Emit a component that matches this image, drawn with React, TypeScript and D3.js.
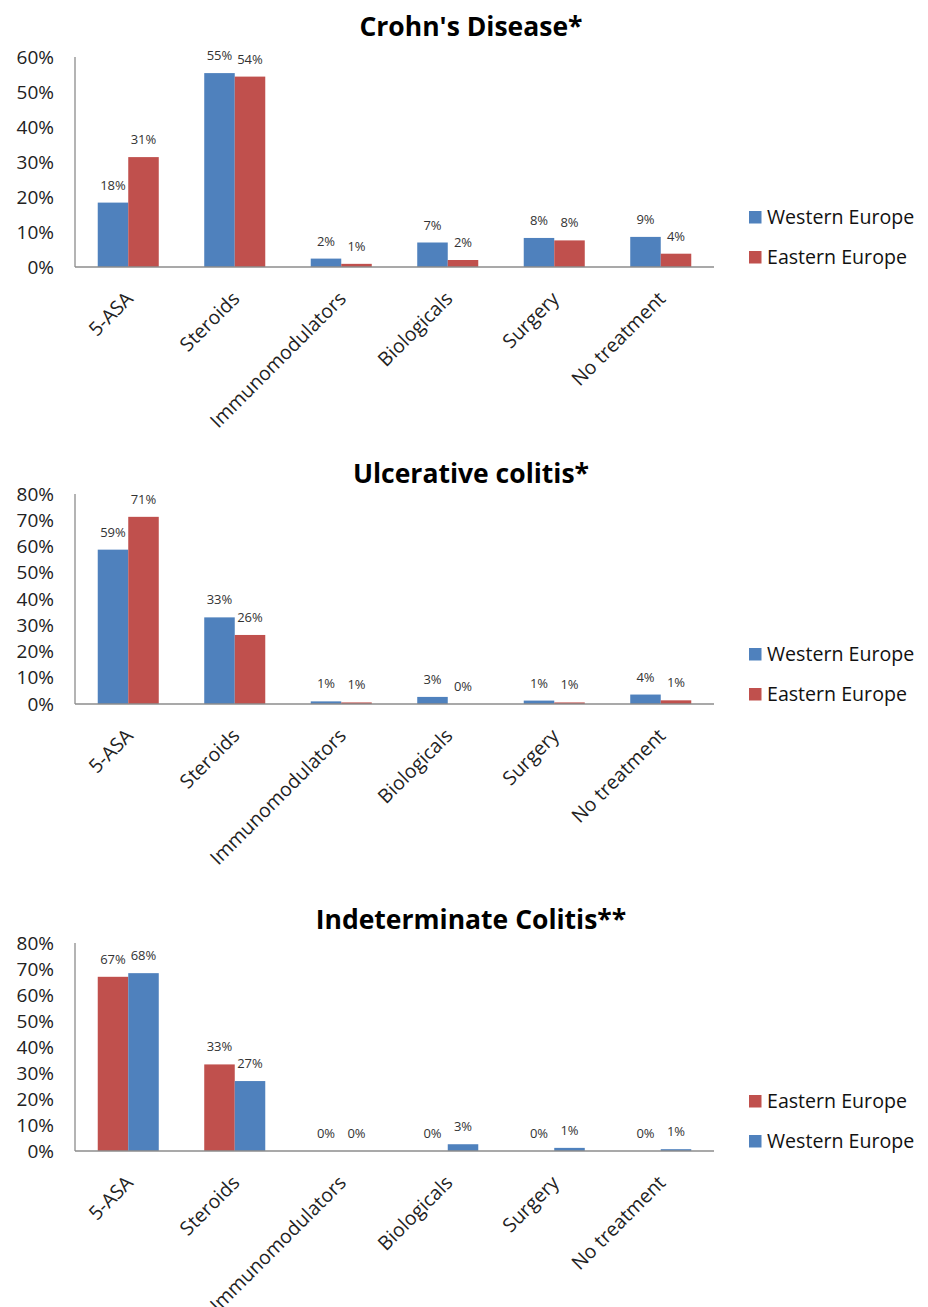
import React from "react";
import * as d3 from "d3";

// Treatment categories shared by the three panels
const categories = ["5-ASA", "Steroids", "Immunomodulators", "Biologicals", "Surgery", "No treatment"];

// Crohn's disease (share of patients, %)
const crohnWestern = [18.4, 55.4, 2.4, 7.0, 8.3, 8.6];
const crohnEastern = [31.4, 54.4, 0.9, 2.0, 7.6, 3.8];

// Ulcerative colitis (%)
const ucWestern = [58.8, 33.0, 1.0, 2.7, 1.3, 3.6];
const ucEastern = [71.3, 26.3, 0.6, 0.0, 0.6, 1.4];

// Indeterminate colitis (%)
const icEastern = [67.0, 33.3, 0.0, 0.0, 0.0, 0.0];
const icWestern = [68.4, 26.9, 0.0, 2.6, 1.2, 0.7];

// Axis ticks
const ticks60 = [0, 10, 20, 30, 40, 50, 60];
const ticks80 = [0, 10, 20, 30, 40, 50, 60, 70, 80];

const BLUE = "#4F81BD";
const RED = "#C0504D";
const FONT = "'Open Sans', 'Noto Sans', sans-serif";

type Series = { name: string; color: string; values: number[] };

type PanelProps = {
  title: string;
  series: Series[];
  ticks: number[];
  top: number;
  bottom: number;
  titleY: number;
};

function Panel({ title, series, ticks, top, bottom, titleY }: PanelProps) {
  const left = 75;
  const right = 714;
  const x0 = d3.scaleBand<string>().domain(categories).range([left, right]).paddingInner(0.427).paddingOuter(0.2135);
  const x1 = d3.scaleBand<string>().domain(series.map((s) => s.name)).range([0, x0.bandwidth()]).padding(0);
  const maxT = ticks[ticks.length - 1];
  const y = d3.scaleLinear().domain([0, maxT]).range([bottom, top]);
  const fmt = (v: number) => d3.format(".0f")(v) + "%";

  return (
    <g>
      <text x={471} y={titleY} textAnchor="middle" fontFamily={FONT} fontWeight={700} fontSize={26.5} fill="#000">
        {title}
      </text>
      {/* y axis */}
      {ticks.map((t) => (
        <text key={t} x={54} y={y(t)} dy="0.35em" textAnchor="end" fontFamily={FONT} fontSize={19} fill="#222">
          {t}%
        </text>
      ))}
      <line x1={left} x2={left} y1={top} y2={bottom} stroke="#8c8c8c" strokeWidth={1.3} />
      {/* bars */}
      {categories.map((c, i) => (
        <g key={c} transform={`translate(${x0(c)},0)`}>
          {series.map((s) => (
            <rect
              key={s.name}
              x={x1(s.name)}
              y={y(s.values[i])}
              width={x1.bandwidth()}
              height={bottom - y(s.values[i])}
              fill={s.color}
            />
          ))}
          {series.map((s) => (
            <text
              key={s.name + "l"}
              x={(x1(s.name) as number) + x1.bandwidth() / 2}
              y={y(s.values[i]) - 13}
              textAnchor="middle"
              fontFamily={FONT}
              fontSize={13}
              fill="#333"
            >
              {fmt(s.values[i])}
            </text>
          ))}
        </g>
      ))}
      <line x1={left} x2={right} y1={bottom} y2={bottom} stroke="#8c8c8c" strokeWidth={1.3} />
      {/* category labels */}
      {categories.map((c) => {
        const cx = (x0(c) as number) + x0.bandwidth() / 2;
        return (
          <text
            key={c + "x"}
            transform={`translate(${cx + 6},${bottom + 33}) rotate(-45)`}
            textAnchor="end"
            fontFamily={FONT}
            fontSize={19.5}
            fill="#222"
          >
            {c}
          </text>
        );
      })}
      {/* legend */}
      {series.map((s, k) => {
        const cy = bottom - 50 + k * 40;
        return (
          <g key={s.name + "g"}>
            <rect x={749} y={cy - 6} width={12.5} height={12.5} fill={s.color} />
            <text x={767} y={cy} dy="0.35em" fontFamily={FONT} fontSize={19.6} fill="#111">
              {s.name}
            </text>
          </g>
        );
      })}
    </g>
  );
}

export default function App() {
  return (
    <svg
      width={928}
      height={1307}
      style={{ position: "absolute", left: 0, top: 0, background: "#fff" }}
    >
      <rect width={928} height={1307} fill="#fff" />
      <Panel
        title="Crohn's Disease*"
        series={[
          { name: "Western Europe", color: BLUE, values: crohnWestern },
          { name: "Eastern Europe", color: RED, values: crohnEastern },
        ]}
        ticks={ticks60}
        top={57}
        bottom={267}
        titleY={36}
      />
      <Panel
        title="Ulcerative colitis*"
        series={[
          { name: "Western Europe", color: BLUE, values: ucWestern },
          { name: "Eastern Europe", color: RED, values: ucEastern },
        ]}
        ticks={ticks80}
        top={494}
        bottom={704}
        titleY={483}
      />
      <Panel
        title="Indeterminate Colitis**"
        series={[
          { name: "Eastern Europe", color: RED, values: icEastern },
          { name: "Western Europe", color: BLUE, values: icWestern },
        ]}
        ticks={ticks80}
        top={943}
        bottom={1151}
        titleY={929}
      />
    </svg>
  );
}
